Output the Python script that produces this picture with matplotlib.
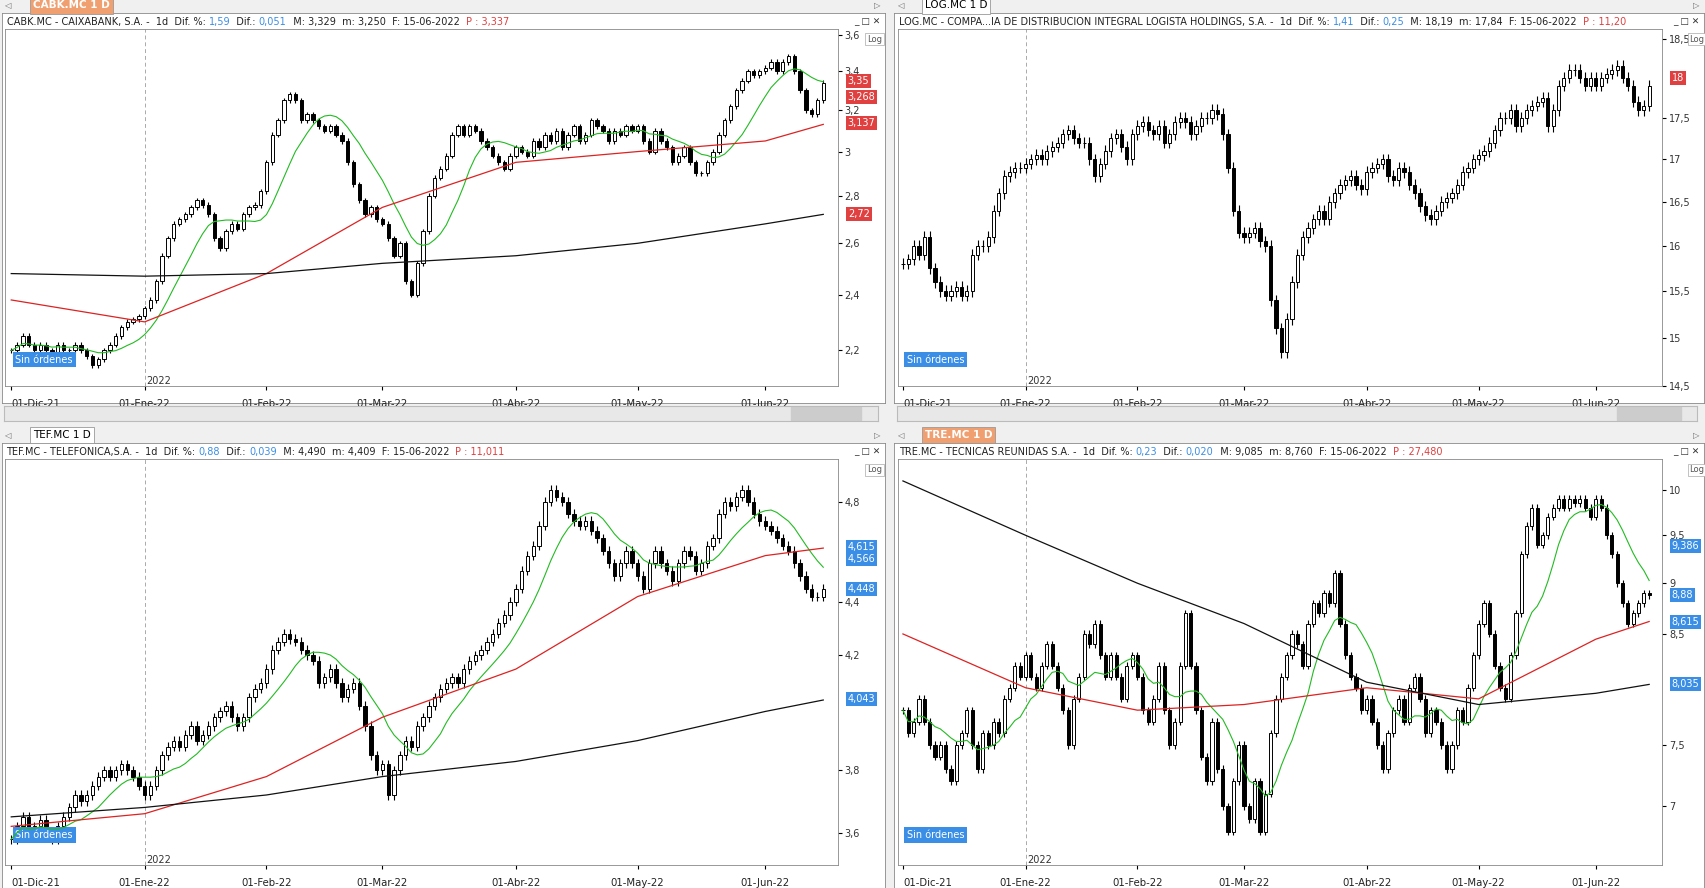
import numpy as np, pandas as pd
import matplotlib
matplotlib.use("Agg")
import matplotlib.pyplot as plt
from matplotlib.ticker import FixedLocator, NullLocator
from matplotlib.patches import Rectangle

FW, FH = 1706, 888
W, H = 1568, 816   # layout coordinate space
dates = pd.bdate_range("2021-12-01", "2022-06-15")
month_labels = ["01-Dic-21", "01-Ene-22", "01-Feb-22", "01-Mar-22", "01-Abr-22", "01-May-22", "01-Jun-22"]
ma_idx = [0, 23, 44, 64, 87, 108, 130, 140]

cabk_close = [2.20,2.22,2.25,2.22,2.20,2.22,2.20,2.18,2.22,2.20,2.20,2.22,2.20,2.18,2.15,2.17,2.20,2.22,2.25,2.28,2.30,2.31,2.32,
 2.35,2.38,2.45,2.55,2.62,2.68,2.70,2.72,2.75,2.78,2.76,2.72,2.62,2.58,2.65,2.68,2.66,2.72,2.75,2.76,2.82,
 2.95,3.08,3.15,3.25,3.28,3.25,3.15,3.18,3.15,3.12,3.10,3.12,3.08,3.05,2.95,2.85,2.78,2.72,2.75,2.70,
 2.68,2.62,2.55,2.60,2.45,2.40,2.52,2.65,2.80,2.88,2.92,2.98,3.08,3.12,3.08,3.12,3.10,3.05,3.02,2.98,2.95,2.92,2.98,
 3.02,3.00,2.98,3.05,3.02,3.08,3.05,3.10,3.02,3.08,3.12,3.05,3.08,3.15,3.12,3.10,3.05,3.10,3.08,3.12,3.10,
 3.12,3.05,3.00,3.10,3.05,3.02,2.95,2.98,3.02,2.95,2.90,2.90,2.95,3.00,3.08,3.15,3.22,3.30,3.35,3.40,3.38,3.40,
 3.42,3.45,3.40,3.45,3.48,3.40,3.30,3.20,3.18,3.25,3.34]
cabk_red = [2.38, 2.30, 2.48, 2.75, 2.95, 3.00, 3.05, 3.13]
cabk_black = [2.48, 2.47, 2.48, 2.52, 2.55, 2.60, 2.68, 2.72]

log_close = [15.8,15.85,16.0,15.9,16.1,15.75,15.6,15.5,15.45,15.5,15.55,15.45,15.5,15.9,16.0,16.0,16.1,16.4,16.6,16.8,16.85,16.9,16.9,
 16.95,17.0,17.05,17.0,17.1,17.15,17.2,17.3,17.35,17.25,17.2,17.2,17.0,16.8,16.95,17.1,17.25,17.3,17.15,17.0,17.3,
 17.4,17.45,17.35,17.3,17.4,17.2,17.3,17.45,17.5,17.45,17.3,17.4,17.5,17.5,17.6,17.55,17.3,16.9,16.4,16.15,
 16.1,16.15,16.2,16.05,16.0,15.4,15.1,14.85,15.2,15.6,15.9,16.1,16.2,16.3,16.4,16.3,16.5,16.6,16.7,16.75,16.8,16.7,16.65,
 16.85,16.9,16.95,17.0,16.8,16.75,16.9,16.85,16.7,16.6,16.45,16.35,16.3,16.4,16.5,16.55,16.6,16.7,16.85,16.9,17.0,
 17.05,17.1,17.2,17.35,17.5,17.5,17.6,17.4,17.5,17.6,17.65,17.7,17.75,17.4,17.6,17.9,18.0,18.1,18.1,18.0,17.9,18.0,
 17.9,18.0,18.05,18.1,18.15,18.0,17.9,17.7,17.6,17.65,17.9]

tef_close = [3.58,3.62,3.65,3.60,3.62,3.64,3.60,3.58,3.62,3.65,3.68,3.72,3.70,3.72,3.75,3.78,3.80,3.78,3.80,3.82,3.80,3.78,3.75,
 3.72,3.75,3.80,3.85,3.88,3.90,3.88,3.92,3.95,3.90,3.92,3.95,3.98,4.00,4.02,3.98,3.95,3.98,4.05,4.08,4.10,
 4.15,4.22,4.25,4.28,4.26,4.25,4.22,4.20,4.18,4.10,4.12,4.15,4.10,4.05,4.08,4.10,4.02,3.95,3.85,3.80,
 3.82,3.72,3.80,3.85,3.90,3.88,3.95,3.98,4.02,4.05,4.08,4.10,4.12,4.10,4.15,4.18,4.20,4.22,4.25,4.28,4.32,4.35,4.40,
 4.45,4.52,4.58,4.62,4.70,4.80,4.85,4.82,4.80,4.75,4.72,4.70,4.72,4.68,4.65,4.60,4.55,4.50,4.55,4.60,4.55,
 4.50,4.45,4.55,4.60,4.55,4.52,4.48,4.55,4.60,4.58,4.52,4.55,4.62,4.65,4.75,4.80,4.78,4.82,4.85,4.80,4.75,4.72,
 4.70,4.68,4.65,4.62,4.60,4.55,4.50,4.45,4.42,4.42,4.45]
tef_red = [3.62, 3.66, 3.78, 3.98, 4.15, 4.42, 4.58, 4.61]
tef_black = [3.65, 3.68, 3.72, 3.78, 3.83, 3.90, 4.00, 4.04]

tre_close = [7.8,7.6,7.7,7.9,7.7,7.5,7.4,7.5,7.3,7.2,7.5,7.6,7.8,7.5,7.3,7.6,7.5,7.7,7.6,7.9,8.0,8.2,8.1,
 8.3,8.1,8.0,8.2,8.4,8.2,8.0,7.8,7.5,7.9,8.1,8.5,8.4,8.6,8.3,8.1,8.3,8.1,7.9,8.2,8.3,
 8.1,7.8,7.7,7.9,8.2,7.8,7.5,7.7,8.2,8.7,8.2,7.8,7.4,7.2,7.7,7.3,7.0,6.8,7.2,7.5,
 7.0,6.9,7.2,6.8,7.1,7.6,7.9,8.1,8.3,8.5,8.4,8.2,8.6,8.8,8.7,8.9,8.8,9.1,8.6,8.3,8.1,8.0,7.8,
 7.9,7.7,7.5,7.3,7.6,7.8,7.9,7.7,8.0,8.1,7.9,7.6,7.8,7.7,7.5,7.3,7.5,7.8,7.7,8.0,8.3,
 8.6,8.8,8.5,8.2,8.0,7.9,8.3,8.7,9.3,9.6,9.8,9.4,9.5,9.7,9.8,9.9,9.8,9.9,9.85,9.9,9.8,9.7,
 9.9,9.8,9.5,9.3,9.0,8.8,8.6,8.7,8.8,8.9,8.88]
tre_red = [8.5, 8.0, 7.8, 7.85, 8.0, 7.9, 8.45, 8.62]
tre_black = [10.1, 9.5, 9.0, 8.6, 8.05, 7.85, 7.95, 8.03]

BLUE = "#3a8ee6"; RED = "#e04040"
panels = [
 dict(tab="CABK.MC 1 D", active=True, box=(0, 0, 815, 390), top=True,
      name="CABK.MC - CAIXABANK, S.A. -  1d", vals=("1,59", "0,051", "3,329", "3,250", "3,337"),
      close=cabk_close, red=cabk_red, black=cabk_black, green=True, ylim=(2.08, 3.63),
      ticks=[2.2, 2.4, 2.6, 2.8, 3.0, 3.2, 3.4, 3.6], tlab=["2,2","2,4","2,6","2,8","3","3,2","3,4","3,6"],
      boxes=[(3.35, "3,35"), (3.268, "3,268"), (3.137, "3,137"), (2.72, "2,72")], bcol=RED),
 dict(tab="LOG.MC 1 D", active=False, box=(820, 0, 1568, 390), top=True,
      name="LOG.MC - COMPA...IA DE DISTRIBUCION INTEGRAL LOGISTA HOLDINGS, S.A. -  1d", vals=("1,41", "0,25", "18,19", "17,84", "11,20"),
      close=log_close, red=None, black=None, green=False, ylim=(14.5, 18.62),
      ticks=[14.5, 15, 15.5, 16, 16.5, 17, 17.5, 18.5], tlab=["14,5","15","15,5","16","16,5","17","17,5","18,5"],
      boxes=[(18.0, "18")], bcol=RED),
 dict(tab="TEF.MC 1 D", active=False, box=(0, 395, 815, 816), top=False,
      name="TEF.MC - TELEFONICA,S.A. -  1d", vals=("0,88", "0,039", "4,490", "4,409", "11,011"),
      close=tef_close, red=tef_red, black=tef_black, green=True, ylim=(3.5, 4.98),
      ticks=[3.6, 3.8, 4.2, 4.4, 4.8, 5.0], tlab=["3,6","3,8","4,2","4,4","4,8","5"],
      boxes=[(4.615, "4,615"), (4.566, "4,566"), (4.448, "4,448"), (4.043, "4,043")], bcol=BLUE),
 dict(tab="TRE.MC 1 D", active=True, box=(820, 395, 1568, 816), top=False,
      name="TRE.MC - TECNICAS REUNIDAS S.A. -  1d", vals=("0,23", "0,020", "9,085", "8,760", "27,480"),
      close=tre_close, red=tre_red, black=tre_black, green=True, ylim=(6.55, 10.35),
      ticks=[7, 7.5, 8.5, 9, 9.5, 10], tlab=["7","7,5","8,5","9","9,5","10"],
      boxes=[(9.386, "9,386"), (8.88, "8,88"), (8.615, "8,615"), (8.035, "8,035")], bcol=BLUE),
]

fig = plt.figure(figsize=(FW/100, FH/100), dpi=100)
fig.patch.set_facecolor("#f0f0f0")
renderer = fig.canvas.get_renderer()

def pax(x0, y0, x1, y1, **kw):
    return fig.add_axes([x0/W, 1-y1/H, (x1-x0)/W, (y1-y0)/H], **kw)

mstart = [0, 23, 44, 64, 87, 108, 130]
for p in panels:
    X0, Y0, X1, Y1 = p["box"]
    fig.text((X0+30)/W, 1-(Y0+5)/H, p["tab"], fontsize=7.5, ha="left", va="center",
             color="white" if p["active"] else "black", weight="bold" if p["active"] else "normal",
             bbox=dict(boxstyle="square,pad=0.3", fc="#f0a070" if p["active"] else "white", ec="#999999", lw=0.6))
    fig.text((X0+4)/W, 1-(Y0+5)/H, "◁", fontsize=6, color="#666", va="center")
    fig.text((X1-12)/W, 1-(Y0+5)/H, "▷", fontsize=6, color="#666", va="center")
    ptop = Y0 + 27
    pbot = Y0 + 355 if p["top"] else 795
    pright = X0 + (770 if X0 == 0 else 708)
    bg = pax(X0+2, Y0+12, X1-2, Y1 - (20 if p["top"] else 0))
    bg.set_facecolor("white"); bg.set_xticks([]); bg.set_yticks([])
    for s in bg.spines.values(): s.set_color("#888"); s.set_linewidth(0.6)
    bg.set_zorder(-5)
    parts = [(p["name"] + "  Dif. %: ", "#222"), (p["vals"][0], BLUE), ("  Dif.: ", "#222"), (p["vals"][1], BLUE),
             ("  M: %s  m: %s  F: 15-06-2022  " % (p["vals"][2], p["vals"][3]), "#222"), ("P : " + p["vals"][4], RED)]
    xpos = (X0+6)/W; ty = 1-(Y0+20)/H
    for s, c in parts:
        t = fig.text(xpos, ty, s, fontsize=7, color=c, va="center")
        ext = t.get_window_extent(renderer)
        xpos = ext.x1 / FW
    fig.text((X1-6)/W, 1-(Y0+20)/H, "_ □ ✕", fontsize=6.5, color="#333", va="center", ha="right")

    ax = pax(X0+5, ptop, pright, pbot)
    ax.set_facecolor("white")
    c = np.array(p["close"])
    o = np.r_[c[0], c[:-1]]
    x = np.arange(len(c))
    hi = np.maximum(o, c) * 1.004; lo = np.minimum(o, c) * 0.996
    ax.vlines(x, lo, hi, color="black", lw=0.8, zorder=2)
    up = c >= o
    ax.bar(x[up], (c-o)[up] + 1e-6, bottom=o[up], width=0.6, color="white", edgecolor="black", lw=0.7, zorder=3)
    ax.bar(x[~up], (o-c)[~up], bottom=c[~up], width=0.6, color="black", edgecolor="black", lw=0.7, zorder=3)
    if p["green"]:
        g = pd.Series(c).rolling(10, min_periods=1).mean()
        ax.plot(x, g, color="#22bb22", lw=0.8, zorder=4)
    if p["red"]:
        ax.plot(ma_idx, p["red"], color="#dd2222", lw=0.9, zorder=4)
        ax.plot(ma_idx, p["black"], color="#111111", lw=0.9, zorder=4)
    ax.set_yscale("log")
    ax.set_xlim(-1, 142.5)
    ax.set_ylim(*p["ylim"])
    ax.yaxis.tick_right()
    ax.yaxis.set_major_locator(FixedLocator(p["ticks"]))
    ax.yaxis.set_minor_locator(NullLocator())
    ax.set_yticklabels(p["tlab"], fontsize=7, color="#333")
    ax.tick_params(axis="y", length=3, pad=2)
    ax.set_xticks(mstart)
    ax.set_xticklabels(month_labels, fontsize=7.3, color="#222")
    ax.get_xticklabels()[0].set_horizontalalignment("left")
    ax.tick_params(axis="x", length=3, pad=6)
    for s in ax.spines.values(): s.set_color("#888"); s.set_linewidth(0.6)
    ax.axvline(23, color="#aaaaaa", lw=0.7, ls=(0, (4, 3)), zorder=1)
    ax.text(23.3, p["ylim"][0], "2022", fontsize=7, va="bottom", ha="left", color="#333")
    ax.text(0.012, 0.075, "Sin órdenes", transform=ax.transAxes, fontsize=7, color="white", va="center",
            bbox=dict(boxstyle="square,pad=0.3", fc="#3a8ee6", ec="none"))
    ax.text(1.035, 0.985, "Log", transform=ax.transAxes, fontsize=6, color="#555", va="top",
            bbox=dict(boxstyle="square,pad=0.2", fc="white", ec="#aaa", lw=0.5))
    for v, s in p["boxes"]:
        ax.text(1.012, v, s, transform=ax.get_yaxis_transform(), fontsize=7, color="white", va="center",
                bbox=dict(boxstyle="square,pad=0.2", fc=p["bcol"], ec="none"), clip_on=False, zorder=6)
    if p["top"]:
        sb = pax(X0+4, Y1-17, X1-8, Y1-3)
        sb.set_facecolor("#e8e8e8"); sb.set_xticks([]); sb.set_yticks([])
        sb.add_patch(Rectangle((0.9, 0.1), 0.08, 0.8, transform=sb.transAxes, color="#cccccc"))
        for s in sb.spines.values(): s.set_color("#bbb")

fig.savefig("out.png", dpi=100, facecolor=fig.get_facecolor())
